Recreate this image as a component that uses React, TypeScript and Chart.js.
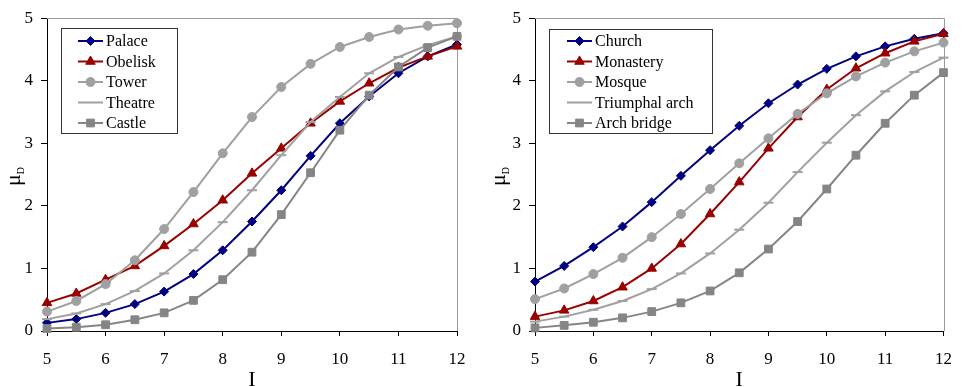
import React, { useEffect, useRef } from 'react';
import { Chart, registerables } from 'chart.js';
import { drawPoint } from 'chart.js/helpers';

Chart.register(...registerables);

const XS = [5, 5.5, 6, 6.5, 7, 7.5, 8, 8.5, 9, 9.5, 10, 10.5, 11, 11.5, 12];
const X_TICKS = [5, 6, 7, 8, 9, 10, 11, 12];
const Y_TICKS = [0, 1, 2, 3, 4, 5];

const LEFT_NAMES = ['Palace', 'Obelisk', 'Tower', 'Theatre', 'Castle'];
const PALACE = [0.13, 0.19, 0.29, 0.43, 0.63, 0.91, 1.29, 1.75, 2.25, 2.8, 3.32, 3.75, 4.12, 4.39, 4.58];
const OBELISK = [0.45, 0.6, 0.82, 1.04, 1.36, 1.71, 2.09, 2.52, 2.92, 3.32, 3.67, 3.96, 4.21, 4.39, 4.55];
const TOWER = [0.31, 0.48, 0.75, 1.13, 1.63, 2.22, 2.84, 3.42, 3.9, 4.27, 4.54, 4.7, 4.82, 4.88, 4.92];
const THEATRE = [0.19, 0.28, 0.43, 0.64, 0.92, 1.29, 1.74, 2.25, 2.81, 3.34, 3.74, 4.12, 4.38, 4.57, 4.71];
const CASTLE = [0.04, 0.06, 0.1, 0.18, 0.29, 0.49, 0.82, 1.26, 1.86, 2.53, 3.21, 3.77, 4.22, 4.53, 4.71];

const RIGHT_NAMES = ['Church', 'Monastery', 'Mosque', 'Triumphal arch', 'Arch bridge'];
const CHURCH = [0.79, 1.04, 1.34, 1.67, 2.06, 2.48, 2.89, 3.28, 3.64, 3.94, 4.19, 4.39, 4.55, 4.67, 4.76];
const MONASTERY = [0.23, 0.33, 0.48, 0.7, 1.0, 1.39, 1.87, 2.38, 2.92, 3.42, 3.86, 4.2, 4.44, 4.63, 4.75];
const MOSQUE = [0.51, 0.68, 0.91, 1.17, 1.5, 1.87, 2.27, 2.68, 3.08, 3.47, 3.8, 4.07, 4.29, 4.47, 4.61];
const TRIUMPHAL = [0.15, 0.23, 0.34, 0.48, 0.67, 0.92, 1.24, 1.62, 2.05, 2.54, 3.01, 3.45, 3.83, 4.14, 4.37];
const ARCH_BRIDGE = [0.05, 0.09, 0.14, 0.21, 0.31, 0.45, 0.64, 0.93, 1.31, 1.75, 2.27, 2.81, 3.32, 3.77, 4.13];

const Y_TITLE = 'μ';
const Y_TITLE_SUB = 'D';
const X_TITLE = 'I';

const NAVY = '#000080';
const DARKRED = '#990000';
const LIGHT = '#a0a0a0';
const MID = '#858585';

const STYLES = [
  { color: NAVY, pointStyle: 'rectRot', radius: 4.5 },
  { color: DARKRED, pointStyle: 'triangle', radius: 5.5 },
  { color: LIGHT, pointStyle: 'circle', radius: 4.5 },
  { color: LIGHT, pointStyle: 'line', radius: 5 },
  { color: MID, pointStyle: 'rect', radius: 5.5 },
];

const SERIF = '"Liberation Serif", "Times New Roman", serif';

const decor = {
  id: 'decor',
  beforeDatasetsDraw(chart: any) {
    const { ctx, chartArea: a } = chart;
    ctx.save();
    ctx.strokeStyle = '#9a9a9a';
    ctx.lineWidth = 1;
    ctx.beginPath();
    ctx.moveTo(a.left, Math.round(a.top) + 0.5);
    ctx.lineTo(Math.round(a.right) + 0.5, Math.round(a.top) + 0.5);
    ctx.lineTo(Math.round(a.right) + 0.5, a.bottom);
    ctx.stroke();
    ctx.restore();
  },
  afterDraw(chart: any, _args: any, opts: any) {
    const { ctx, chartArea: a } = chart;
    const L = opts.legend;
    ctx.save();
    ctx.fillStyle = '#ffffff';
    ctx.fillRect(L.x, L.y, L.w, L.h);
    ctx.strokeStyle = '#333333';
    ctx.lineWidth = 1;
    ctx.strokeRect(L.x + 0.5, L.y + 0.5, L.w, L.h);
    chart.data.datasets.forEach((ds: any, i: number) => {
      const y = L.y0 + i * L.dy;
      ctx.strokeStyle = ds.borderColor;
      ctx.lineWidth = 2;
      ctx.beginPath();
      ctx.moveTo(L.lx1, y);
      ctx.lineTo(L.lx2, y);
      ctx.stroke();
      ctx.fillStyle = ds.backgroundColor;
      ctx.strokeStyle = ds.borderColor;
      ctx.lineWidth = 1;
      drawPoint(ctx, { pointStyle: ds.pointStyle, radius: ds.pointRadius, borderWidth: ds.pointStyle === 'line' ? 2 : 1, rotation: 0 }, (L.lx1 + L.lx2) / 2, y);
      ctx.fillStyle = '#000';
      ctx.font = `16px ${SERIF}`;
      ctx.textBaseline = 'middle';
      ctx.textAlign = 'left';
      ctx.fillText(ds.label, L.tx, y + 1);
    });
    ctx.fillStyle = '#000';
    ctx.font = `22px ${SERIF}`;
    ctx.textAlign = 'center';
    ctx.textBaseline = 'alphabetic';
    ctx.fillText(X_TITLE, (a.left + a.right) / 2, 386);
    ctx.save();
    ctx.translate(opts.yTitleX, 186);
    ctx.rotate(-Math.PI / 2);
    ctx.textAlign = 'left';
    ctx.font = `22px ${SERIF}`;
    ctx.fillText(Y_TITLE, 0, 0);
    const w = ctx.measureText(Y_TITLE).width;
    ctx.font = `10px ${SERIF}`;
    ctx.fillText(Y_TITLE_SUB, w, 4);
    ctx.restore();
    ctx.restore();
  },
};

function buildConfig(names: string[], series: number[][], yWidth: number, rightPad: number, legend: any, yTitleX: number) {
  const n = series.length;
  return {
    type: 'line' as const,
    data: {
      datasets: series.map((vals, i) => ({
        label: names[i],
        data: vals.map((v, k) => ({ x: XS[k], y: v })),
        borderColor: STYLES[i].color,
        backgroundColor: STYLES[i].color,
        pointStyle: STYLES[i].pointStyle,
        pointRadius: STYLES[i].radius,
        pointBorderWidth: STYLES[i].pointStyle === 'line' ? 2 : 1,
        borderWidth: 2,
        tension: 0,
        clip: false,
        order: n - 1 - i,
      })),
    },
    options: {
      animation: false,
      responsive: false,
      layout: { padding: { top: 15, right: rightPad, left: 0, bottom: 0 } },
      plugins: {
        legend: { display: false },
        tooltip: { enabled: false },
        decor: { legend, yTitleX },
      },
      scales: {
        x: {
          type: 'linear',
          min: 5,
          max: 12,
          afterBuildTicks: (s: any) => { s.ticks = X_TICKS.map((v) => ({ value: v })); },
          afterFit: (s: any) => { s.height = 56; },
          ticks: { color: '#000', font: { family: SERIF, size: 17 }, padding: 13, maxRotation: 0 },
          grid: { drawOnChartArea: false, drawTicks: true, tickLength: 5, color: '#000', lineWidth: 1 },
          border: { color: '#000', width: 1 },
        },
        y: {
          type: 'linear',
          min: 0,
          max: 5,
          afterBuildTicks: (s: any) => { s.ticks = Y_TICKS.map((v) => ({ value: v })); },
          afterFit: (s: any) => { s.width = yWidth; },
          ticks: { color: '#000', font: { family: SERIF, size: 17 }, padding: 8 },
          grid: { drawOnChartArea: false, drawTicks: true, tickLength: 6, color: '#000', lineWidth: 1 },
          border: { color: '#000', width: 1 },
        },
      },
    },
    plugins: [decor],
  };
}

function Panel(props: { left: number; width: number; config: any }) {
  const ref = useRef<HTMLCanvasElement>(null);
  useEffect(() => {
    const chart = new Chart(ref.current as HTMLCanvasElement, props.config);
    return () => chart.destroy();
  }, []);
  return (
    <canvas
      ref={ref}
      width={props.width}
      height={387}
      style={{ position: 'absolute', left: props.left, top: 0, width: props.width, height: 387, display: 'block' }}
    />
  );
}

export default function App() {
  const leftCfg = buildConfig(
    LEFT_NAMES,
    [PALACE, OBELISK, TOWER, THEATRE, CASTLE],
    47,
    25,
    { x: 61, y: 28, w: 116, h: 105, lx1: 78, lx2: 103, tx: 106, y0: 41, dy: 20.5 },
    20
  );
  const rightCfg = buildConfig(
    RIGHT_NAMES,
    [CHURCH, MONASTERY, MOSQUE, TRIUMPHAL, ARCH_BRIDGE],
    53,
    20,
    { x: 67, y: 29, w: 163, h: 104, lx1: 85, lx2: 110, tx: 113, y0: 41, dy: 20.5 },
    23
  );
  return (
    <div style={{ position: 'fixed', left: 0, top: 0, width: 965, height: 387, background: '#fff', overflow: 'hidden' }}>
      <Panel left={0} width={482} config={leftCfg} />
      <Panel left={482} width={483} config={rightCfg} />
    </div>
  );
}
